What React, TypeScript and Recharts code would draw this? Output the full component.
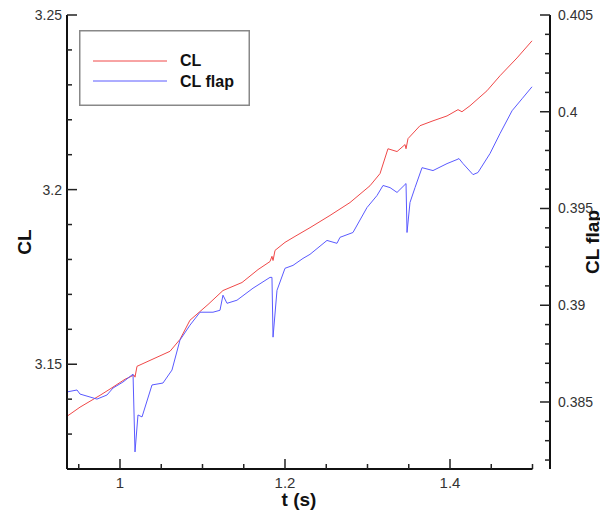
import { LineChart, Line, XAxis, YAxis, Legend, ReferenceLine } from 'recharts';

// CL (left axis) samples
const tCL = [0.9358, 0.9515, 0.9758, 0.9879, 1.0061, 1.017, 1.0182, 1.0206, 1.0364, 1.0606, 1.0727, 1.0848, 1.097, 1.1067, 1.1248, 1.1479, 1.1673, 1.1818, 1.1842, 1.1855, 1.1879, 1.2, 1.2121, 1.2303, 1.2545, 1.2788, 1.303, 1.3152, 1.3248, 1.3358, 1.3455, 1.3467, 1.3491, 1.3636, 1.3794, 1.3964, 1.4097, 1.4145, 1.4242, 1.4448, 1.4606, 1.4812, 1.4994];
const clValues = [3.1351, 3.1377, 3.1411, 3.1429, 3.1457, 3.1469, 3.1463, 3.1494, 3.1511, 3.1537, 3.1571, 3.1626, 3.1651, 3.1671, 3.1711, 3.1734, 3.1771, 3.1794, 3.1809, 3.1797, 3.1826, 3.1849, 3.1866, 3.1891, 3.1926, 3.1963, 3.2011, 3.2046, 3.2117, 3.2109, 3.2129, 3.2117, 3.2146, 3.2183, 3.2197, 3.2211, 3.2229, 3.2223, 3.224, 3.2283, 3.2326, 3.2377, 3.2426];

// CL flap (right axis) samples
const tFlap = [0.9358, 0.9479, 0.9515, 0.9721, 0.9842, 0.9915, 1.0036, 1.0158, 1.0182, 1.0218, 1.0267, 1.0388, 1.0521, 1.063, 1.0727, 1.0848, 1.097, 1.1127, 1.1212, 1.1248, 1.1297, 1.1418, 1.1612, 1.1818, 1.1842, 1.1855, 1.1903, 1.2, 1.2097, 1.2218, 1.2303, 1.2509, 1.263, 1.2667, 1.2824, 1.2994, 1.3115, 1.3188, 1.3273, 1.3358, 1.3467, 1.3479, 1.3515, 1.3576, 1.3661, 1.3794, 1.3964, 1.4085, 1.4109, 1.4158, 1.4279, 1.4339, 1.4485, 1.4606, 1.4752, 1.4873, 1.4994];
const flapValues = [0.38552, 0.38562, 0.38541, 0.38515, 0.38536, 0.38572, 0.38603, 0.38644, 0.38242, 0.38433, 0.38423, 0.38588, 0.38598, 0.38665, 0.3882, 0.38897, 0.38964, 0.38964, 0.38974, 0.39052, 0.3901, 0.39026, 0.39088, 0.39144, 0.39144, 0.38835, 0.39077, 0.39191, 0.39206, 0.39242, 0.39263, 0.39335, 0.3932, 0.39351, 0.39376, 0.39505, 0.39567, 0.39619, 0.39608, 0.39583, 0.39629, 0.39376, 0.39531, 0.39608, 0.39711, 0.39696, 0.39732, 0.39753, 0.39758, 0.39732, 0.39675, 0.39686, 0.39784, 0.39887, 0.40005, 0.40067, 0.40129];

const xTicks = [0.95, 1, 1.05, 1.1, 1.15, 1.2, 1.25, 1.3, 1.35, 1.4, 1.45, 1.5];
const xMajor = [1, 1.2, 1.4];
const leftTicks = [3.13, 3.14, 3.15, 3.16, 3.17, 3.18, 3.19, 3.2, 3.21, 3.22, 3.23, 3.24, 3.25];
const leftMajor = [3.15, 3.2, 3.25];
const rightTicks = [0.382, 0.383, 0.384, 0.385, 0.386, 0.387, 0.388, 0.389, 0.39, 0.391, 0.392, 0.393, 0.394, 0.395, 0.396, 0.397, 0.398, 0.399, 0.4, 0.401, 0.402, 0.403, 0.404, 0.405];
const rightMajor = [0.385, 0.39, 0.395, 0.4, 0.405];

const RED = '#f04848';
const BLUE = '#5a5aff';
const FONT = '"Liberation Sans", Arial, Helvetica, sans-serif';

const clData = tCL.map((t, i) => ({ t, v: clValues[i] }));
const flapData = tFlap.map((t, i) => ({ t, v: flapValues[i] }));

const isMajor = (list: number[], v: number) => list.some(m => Math.abs(m - v) < 1e-9);

const BottomTick = (props: any) => {
    const { x, y, payload } = props;
    const major = isMajor(xMajor, payload.value);
    return (
        <g>
            <line x1={x} y1={y} x2={x} y2={y - (major ? 10 : 5)} stroke="#222" strokeWidth={1.5} />
            {major && (
                <text x={x} y={y + 19} textAnchor="middle" fontSize={15} fill="#333" fontFamily={FONT}>
                    {String(payload.value)}
                </text>
            )}
        </g>
    );
};

const LeftTick = (props: any) => {
    const { x, y, payload } = props;
    const major = isMajor(leftMajor, payload.value);
    return (
        <g>
            <line x1={x} y1={y} x2={x + (major ? 10 : 5)} y2={y} stroke="#222" strokeWidth={1.5} />
            {major && (
                <text x={x - 5} y={y + 5} textAnchor="end" fontSize={14} fill="#333" fontFamily={FONT}>
                    {String(payload.value)}
                </text>
            )}
        </g>
    );
};

const RightTick = (props: any) => {
    const { x, y, payload } = props;
    const major = isMajor(rightMajor, payload.value);
    return (
        <g>
            <line x1={x} y1={y} x2={x - (major ? 10 : 5)} y2={y} stroke="#222" strokeWidth={1.5} />
            {major && (
                <text x={x + 8} y={y + 5} textAnchor="start" fontSize={14} fill="#333" fontFamily={FONT}>
                    {String(payload.value)}
                </text>
            )}
        </g>
    );
};

// axis titles: ignore the props Recharts passes in and draw at fixed spots
const AxisTitle = ({ text, cx, cy, rotate }: { text: string; cx: number; cy: number; rotate?: boolean }) => (
    <text
        x={cx}
        y={cy}
        transform={rotate ? `rotate(-90 ${cx} ${cy})` : undefined}
        textAnchor="middle"
        fontSize={19}
        fontWeight="bold"
        fill="#111"
        fontFamily={FONT}
    >
        {text}
    </text>
);

const LegendBox = () => (
    <svg width={171} height={76} style={{ display: 'block' }}>
        <rect x={0.75} y={0.75} width={169.5} height={74.5} fill="#fff" stroke="#888" strokeWidth={1.5} />
        <line x1={14} y1={31} x2={88} y2={31} stroke={RED} strokeWidth={1} />
        <line x1={14} y1={51} x2={88} y2={51} stroke={BLUE} strokeWidth={1} />
        <text x={101} y={36} fontSize={16} fontWeight="bold" fill="#111" fontFamily={FONT}>CL</text>
        <text x={101} y={57} fontSize={16} fontWeight="bold" fill="#111" fontFamily={FONT}>CL flap</text>
    </svg>
);

export default function App() {
    return (
        <div style={{ position: 'absolute', left: 0, top: 0, width: 600, height: 516, background: '#fff' }}>
            <LineChart width={600} height={516} data={clData} margin={{ top: 15, right: 0, bottom: 0, left: 0 }}>
                <XAxis
                    type="number"
                    dataKey="t"
                    domain={[0.93576, 1.52121]}
                    allowDataOverflow
                    ticks={xTicks}
                    interval={0}
                    height={47}
                    axisLine={false}
                    tickLine={false}
                    tickSize={0}
                    tickMargin={0}
                    tick={<BottomTick />}
                    label={<AxisTitle text="t (s)" cx={299} cy={506} />}
                />
                <YAxis
                    yAxisId="left"
                    type="number"
                    domain={[3.12, 3.25]}
                    allowDataOverflow
                    ticks={leftTicks}
                    interval={0}
                    width={67}
                    axisLine={{ stroke: '#111', strokeWidth: 2 }}
                    tickLine={false}
                    tickSize={0}
                    tickMargin={0}
                    tick={<LeftTick />}
                    label={<AxisTitle text="CL" cx={31} cy={242} rotate />}
                />
                <YAxis
                    yAxisId="right"
                    orientation="right"
                    type="number"
                    domain={[0.381537, 0.405]}
                    allowDataOverflow
                    ticks={rightTicks}
                    interval={0}
                    width={50}
                    axisLine={{ stroke: '#111', strokeWidth: 2 }}
                    tickLine={false}
                    tickSize={0}
                    tickMargin={0}
                    tick={<RightTick />}
                    label={<AxisTitle text="CL flap" cx={599} cy={242} rotate />}
                />
                <ReferenceLine
                    yAxisId="left"
                    segment={[{ x: 0.93576, y: 3.12 }, { x: 1.5, y: 3.12 }]}
                    stroke="#111"
                    strokeWidth={2}
                    ifOverflow="visible"
                />
                <Legend
                    layout="vertical"
                    verticalAlign="middle"
                    align="center"
                    wrapperStyle={{ position: 'absolute', left: 79, top: 30, width: 171, height: 76 }}
                    content={() => <LegendBox />}
                />
                <Line yAxisId="left" data={clData} dataKey="v" type="linear" stroke={RED} strokeWidth={1} dot={false} isAnimationActive={false} name="CL" />
                <Line yAxisId="right" data={flapData} dataKey="v" type="linear" stroke={BLUE} strokeWidth={1} dot={false} isAnimationActive={false} name="CL flap" />
            </LineChart>
        </div>
    );
}
